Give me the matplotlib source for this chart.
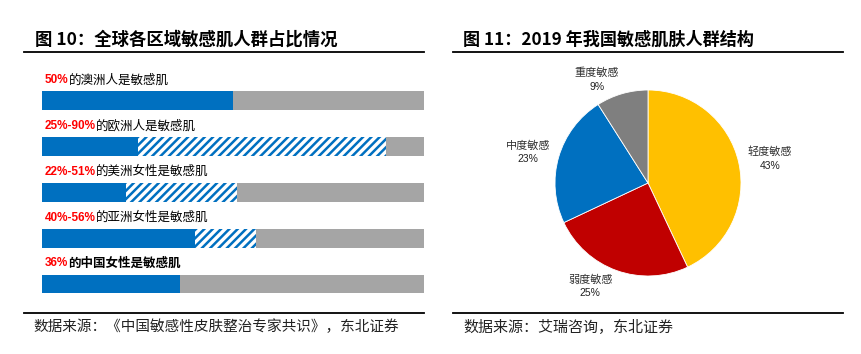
import matplotlib.pyplot as plt
from matplotlib.lines import Line2D

plt.rcParams['font.family'] = ['Noto Sans CJK SC', 'DejaVu Sans']
plt.rcParams['hatch.linewidth'] = 1.8

# left panel: share of sensitive skin by region
pct_text = ['50%', '25%-90%', '22%-51%', '40%-56%', '36%']
desc_text = ['的澳洲人是敏感肌', '的欧洲人是敏感肌', '的美洲女性是敏感肌',
             '的亚洲女性是敏感肌', '的中国女性是敏感肌']
low = [50, 25, 22, 40, 36]
high = [50, 90, 51, 56, 36]

# right panel: 2019 China sensitive skin structure
pie_labels = ['轻度敏感', '弱度敏感', '中度敏感', '重度敏感']
pie_values = [43, 25, 23, 9]
pie_colors = ['#FFC000', '#C00000', '#0070C0', '#7F7F7F']
# label anchor (in pie radius units), placed by hand like the original
pie_label_pos = [(1.31, 0.26), (-0.62, -1.11), (-1.29, 0.33), (-0.55, 1.11)]

BLUE = '#0070C0'
GRAY = '#A5A5A5'
RED = '#FF0000'

W, H = 861, 354
fig = plt.figure(figsize=(W / 100, H / 100), dpi=100)


def fx(x):
    return x / W


def fy(y):
    return 1 - y / H


# titles and rules
fig.text(fx(35), fy(40), '图 10：全球各区域敏感肌人群占比情况', fontsize=12.5,
         weight='bold', va='center', ha='left')
fig.text(fx(463), fy(40), '图 11：2019 年我国敏感肌肤人群结构', fontsize=12.3,
         weight='bold', va='center', ha='left')
for x0, x1 in [(24, 424), (453, 843)]:
    for y in [52, 313]:
        fig.add_artist(Line2D([fx(x0), fx(x1)], [fy(y), fy(y)], color='black', lw=1.3))

fig.text(fx(33), fy(327), '数据来源：《中国敏感性皮肤整治专家共识》，东北证券', fontsize=10.5,
         va='center', ha='left', color='#222222')
fig.text(fx(463), fy(327), '数据来源：艾瑞咨询，东北证券', fontsize=10.8,
         va='center', ha='left', color='#222222')

# ---- left bars
top_px, bot_px = 54.6, 307
ax = fig.add_axes([fx(42), fy(bot_px), (424 - 42) / W, (bot_px - top_px) / H])
ax.set_xlim(0, 100)
ax.set_ylim(4.5, -1.0)
ax.axis('off')

for i in range(len(low)):
    ax.barh(i, 100, height=0.41, color=GRAY, lw=0)
    if high[i] > low[i]:
        ax.barh(i, high[i] - low[i], left=low[i], height=0.41, facecolor='white',
                edgecolor=BLUE, hatch='////', lw=0)
    ax.barh(i, low[i], height=0.41, color=BLUE, lw=0)
    t = ax.text(0.8, i - 0.45, pct_text[i], color=RED, weight='bold', fontsize=8.5,
                family=['Liberation Sans'], va='center', ha='left')
    ax.annotate(desc_text[i], xy=(1, 0.5), xycoords=t, va='center', ha='left',
                fontsize=9, color='black', weight='bold' if i == 4 else 'normal')

# ---- right pie
r = 93
cx, cy = 648, 183
pax = fig.add_axes([fx(cx - r), fy(cy + r), 2 * r / W, 2 * r / H])
pax.pie(pie_values, colors=pie_colors, startangle=90, counterclock=False,
        radius=1, wedgeprops=dict(linewidth=0.6, edgecolor='white'))
pax.set_xlim(-1, 1)
pax.set_ylim(-1, 1)
pax.axis('off')
for lab, v, (x, y) in zip(pie_labels, pie_values, pie_label_pos):
    pax.text(x, y + 0.075, lab, fontsize=8, ha='center', va='center', color='#333333')
    pax.text(x, y - 0.075, f'{v}%', fontsize=7.5, ha='center', va='center',
             color='#222222', family=['Liberation Sans'])

fig.savefig('out.png', dpi=100)
